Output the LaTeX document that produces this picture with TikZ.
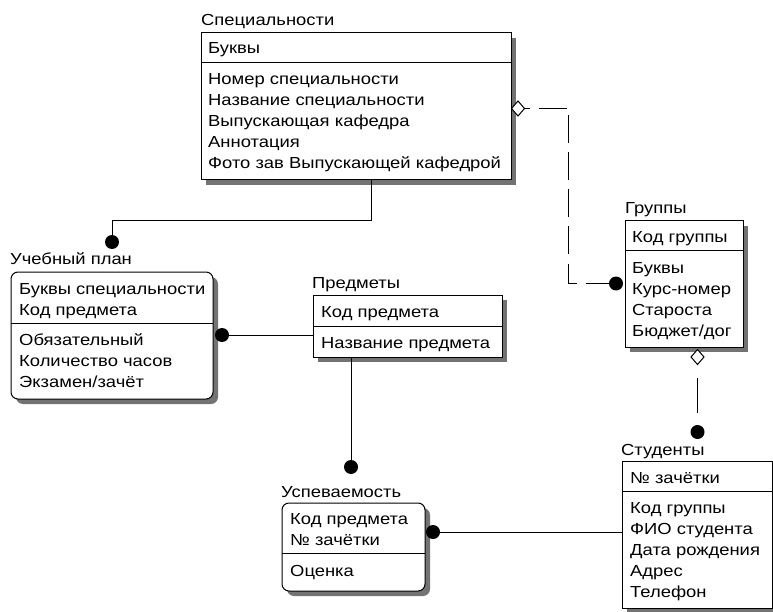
\documentclass[tikz,border=0pt]{standalone}
\usepackage{fontspec}
\setmainfont{Liberation Sans}[FakeStretch=1.15]
\usetikzlibrary{shadows,shapes.geometric}
\tikzset{
  ent/.style={rectangle, draw=black, line width=1pt, fill=white, anchor=north west, inner sep=0pt, outer sep=0pt,
    drop shadow={shadow xshift=5pt, shadow yshift=-5pt, fill=black!55, opacity=1}},
  depent/.style={ent, rounded corners=7pt},
  ttl/.style={anchor=base west, inner sep=0pt, font=\fontsize{16}{21}\selectfont},
  fld/.style={ttl},
  sepline/.style={line width=1pt},
  conn/.style={line width=1pt, draw=black},
  nonid/.style={conn, line width=1.2pt, dash pattern=on 28pt off 9pt},
  dotmark/.style={circle, fill=black, minimum size=14pt, inner sep=0pt, outer sep=0pt},
  nullmark/.style={diamond, draw=black, line width=1pt, fill=white, minimum width=13pt, minimum height=15pt, inner sep=0pt, outer sep=0pt},
}
\begin{document}
\begin{tikzpicture}[x=1pt,y=-1pt]
\fill[white] (0,0) rectangle (773,612);
\useasboundingbox (0,0) rectangle (773,612);

% Специальности
\node[ent, minimum width=310pt, minimum height=147pt] (spec) at (201,33) {};
\node[ttl] (specT) at (201,26) {Специальности};
\draw[sepline] (201,63) -- (511,63);
\node[fld] (specK) at (208,54) {Буквы};
\foreach \t [count=\i] in {Номер специальности, Название специальности, Выпускающая кафедра, Аннотация, Фото зав Выпускающей кафедрой}
  \node[fld] (specA\i) at (208,{64+21*\i}) {\t};

% Учебный план
\node[depent, minimum width=202pt, minimum height=127pt] (plan) at (11,272) {};
\node[ttl] (planT) at (10,265) {Учебный план};
\draw[sepline] (11,323) -- (213,323);
\node[fld] (planK1) at (19,294) {Буквы специальности};
\node[fld] (planK2) at (19,315) {Код предмета};
\foreach \t [count=\i] in {Обязательный, Количество часов, Экзамен/зачёт}
  \node[fld] (planA\i) at (19,{324+21*\i}) {\t};

% Предметы
\node[ent, minimum width=189pt, minimum height=62pt] (pred) at (313,295) {};
\node[ttl] (predT) at (312,288) {Предметы};
\draw[sepline] (313,326) -- (502,326);
\node[fld] (predK) at (321,317) {Код предмета};
\node[fld] (predA) at (321,348) {Название предмета};

% Группы
\node[ent, minimum width=118pt, minimum height=126pt] (grp) at (625,221) {};
\node[ttl] (grpT) at (625,214) {Группы};
\draw[sepline] (625,251) -- (743,251);
\node[fld] (grpK) at (632,243) {Код группы};
\foreach \t [count=\i] in {Буквы, Курс-номер, Староста, Бюджет/дог}
  \node[fld] (grpA\i) at (632,{252+21*\i}) {\t};

% Студенты
\node[ent, minimum width=150pt, minimum height=147pt] (stud) at (622,461) {};
\node[ttl] (studT) at (621,455) {Студенты};
\draw[sepline] (622,491) -- (772,491);
\node[fld] (studK) at (630,483) {№ зачётки};
\foreach \t [count=\i] in {Код группы, ФИО студента, Дата рождения, Адрес, Телефон}
  \node[fld] (studA\i) at (630,{492+21*\i}) {\t};

% Успеваемость
\node[depent, minimum width=143pt, minimum height=88pt] (usp) at (282,503) {};
\node[ttl] (uspT) at (281,497) {Успеваемость};
\draw[sepline] (282,553) -- (425,553);
\node[fld] (uspK1) at (290,524) {Код предмета};
\node[fld] (uspK2) at (290,545) {№ зачётки};
\node[fld] (uspA) at (290,576) {Оценка};

% relationship end marks
\node[dotmark] (dA) at (112,242) {};
\node[dotmark] (dB) at (222,335) {};
\node[dotmark] (dC) at (351,467) {};
\node[dotmark] (dD) at (433,532) {};
\node[dotmark] (dE) at (616,283.5) {};
\node[dotmark] (dF) at (697.5,432) {};
\node[nullmark] (nA) at (518,108.5) {};
\node[nullmark] (nB) at (697.5,357) {};
\coordinate (specB) at (371,180);
\coordinate (bendE) at (568.5,283.5);

% connectors
\draw[conn] (specB) -- ++(0,41) -| (dA);
\draw[conn] (pred.west |- dB) -- (dB);
\draw[conn] (pred.south -| dC) -- (dC);
\draw[conn] (stud.west |- dD) -- (dD);
\draw[nonid, dash phase=23pt] (nA.east) -| (bendE) -- (dE);
\draw[nonid, dash pattern=on 0pt off 13pt on 35pt off 200pt] (nB.south) -- (dF);
\end{tikzpicture}
\end{document}
